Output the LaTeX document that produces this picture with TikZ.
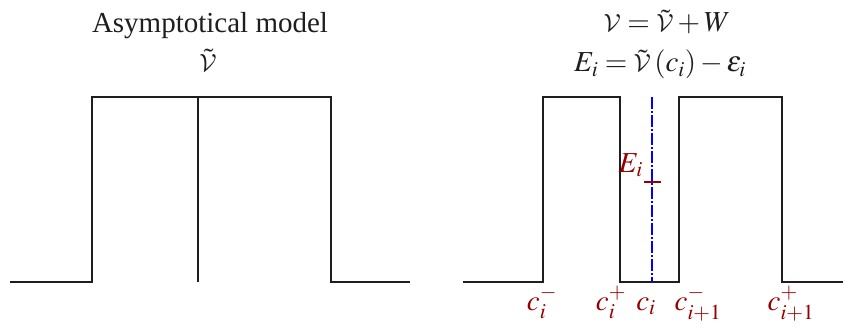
\documentclass[tikz,border=0pt]{standalone}
\usepackage{mathptmx}
\DeclareMathAlphabet{\mathcal}{OMS}{cmsy}{m}{n}
\usepackage{fontspec}
\setmainfont{Liberation Serif}
\definecolor{dred}{RGB}{150,0,0}
\definecolor{ink}{RGB}{30,30,30}
\begin{document}
\begin{tikzpicture}[x=1pt,y=-1pt,
  curve/.style={line width=2.4pt, line join=miter, ink},
  lbl/.style={anchor=base, inner sep=0pt, font=\fontsize{29}{34}\selectfont, text=ink},
  redlbl/.style={lbl, text=dred},
  axisdash/.style={blue, line width=1.8pt, dash pattern=on 12pt off 2pt on 2pt off 2pt}]
\useasboundingbox (0,0) rectangle (854,329);
% titles
\node[lbl] (t1) at (210,33) {Asymptotical model};
\node[lbl] (t2) at (208,71) {$\smash{\tilde{\mathcal{V}}}$};
\node[lbl] (t3) at (667,32) {$\mathcal{V}=\smash{\tilde{\mathcal{V}}}+W$};
\node[lbl] (t4) at (660,72) {$E_i=\smash{\tilde{\mathcal{V}}}\,(c_i)-\varepsilon_i$};
% left potential
\draw[curve] (10,282) -- (92,282) -- (92,97) -- (331,97) -- (331,282) -- (410,282);
\draw[curve] (198,97) -- (198,282);
% right potential
\draw[curve] (463,282) -- (543,282) -- (543,97) -- (620,97) -- (620,282) -- (679,282) -- (679,97) -- (782,97) -- (782,282) -- (843,282);
\coordinate (ctop) at (652,97);
\coordinate (cbot) at (652,282);
\draw[axisdash] (ctop) -- (cbot);
\draw[line width=2.4pt, dred] (644,182) -- (661,182);
\node[redlbl, anchor=base east] (ei) at (643,172) {$E_i$};
% labels
\node[redlbl] (l1) at (542,310) {$c_i^-$};
\node[redlbl] (l2) at (611,310) {$c_i^+$};
\node[redlbl] (l3) at (646,310) {$c_i$};
\node[redlbl] (l4) at (698,310) {$c_{i+1}^-$};
\node[redlbl] (l5) at (791,310) {$c_{i+1}^+$};
\end{tikzpicture}
\end{document}
